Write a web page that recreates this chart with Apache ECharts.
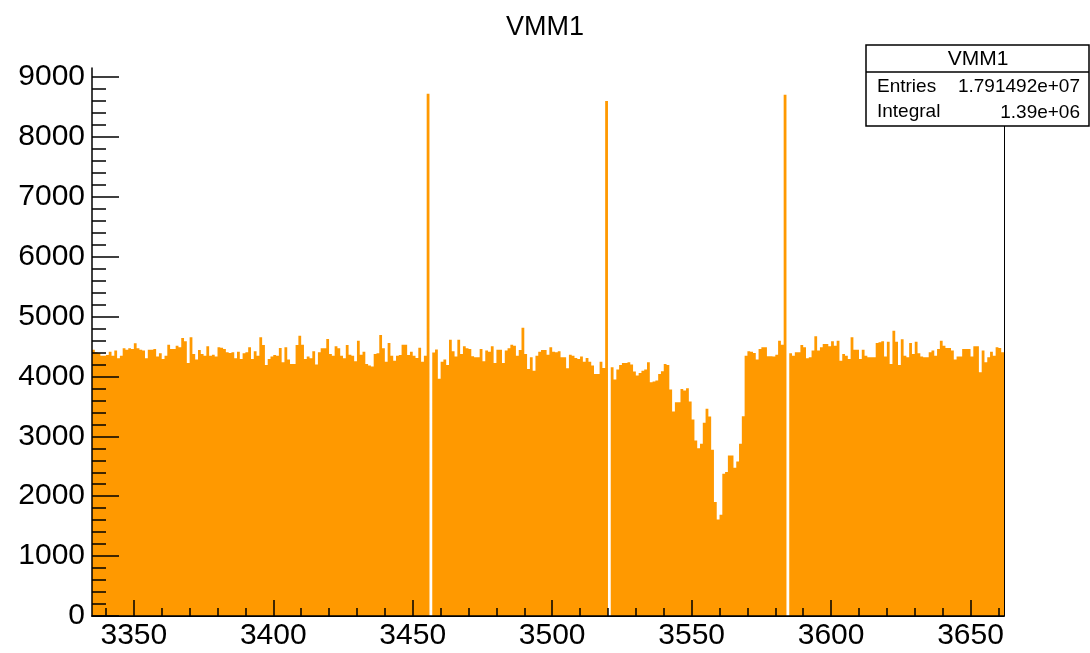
<!DOCTYPE html>
<html>
<head>
<meta charset="utf-8">
<title>VMM1</title>
<script src="https://cdn.jsdelivr.net/npm/echarts@6/dist/echarts.min.js"></script>
<style>
  html, body { margin: 0; padding: 0; background: #ffffff; }
  #chart { width: 1090px; height: 653px; }
</style>
</head>
<body>
<div id="chart"></div>
<script>
// Histogram of hits per strip for VMM1, one bin per strip.
const histTitle = 'VMM1';
const binStart = 3335;
const binWidth = 1;
const counts = [
  4447, 4403, 4392, 4347, 4347, 4359, 4414, 4347, 4431, 4303, 4347, 4470, 4447, 4470, 4459, 4553, 4470, 4447, 4431, 4303,
  4447, 4447, 4459, 4331, 4386, 4292, 4347, 4531, 4459, 4459, 4514, 4486, 4642, 4586, 4225, 4653, 4375, 4281, 4442, 4375,
  4347, 4503, 4347, 4364, 4331, 4486, 4481, 4459, 4403, 4392, 4403, 4303, 4414, 4292, 4386, 4403, 4486, 4292, 4420, 4347,
  4653, 4525, 4192, 4292, 4331, 4359, 4347, 4475, 4237, 4486, 4281, 4209, 4209, 4525, 4681, 4531, 4292, 4331, 4303, 4420,
  4198, 4403, 4470, 4470, 4625, 4375, 4347, 4503, 4470, 4347, 4303, 4525, 4364, 4347, 4253, 4597, 4364, 4414, 4209, 4181,
  4164, 4375, 4386, 4692, 4470, 4247, 4559, 4347, 4264, 4347, 4359, 4531, 4531, 4359, 4414, 4347, 4309, 4481, 4247, 4347,
  8722, 0, 4400, 4450, 3960, 4247, 4281, 4192, 4614, 4420, 4331, 4614, 4375, 4503, 4470, 4459, 4336, 4320, 4320, 4459,
  4253, 4431, 4414, 4503, 4225, 4447, 4447, 4225, 4431, 4470, 4531, 4514, 4347, 4442, 4814, 4375, 4125, 4320, 4097, 4347,
  4414, 4442, 4442, 4364, 4486, 4414, 4403, 4420, 4320, 4320, 4136, 4364, 4347, 4309, 4292, 4331, 4247, 4309, 4247, 4181,
  4042, 4042, 4247, 4142, 8600, 0, 4153, 3947, 4114, 4192, 4225, 4225, 4237, 4198, 4081, 4014, 4059, 4097, 4114, 4237,
  3903, 3914, 3931, 4042, 4086, 4209, 4192, 3781, 3414, 3570, 3570, 3792, 3764, 3803, 3581, 3281, 2931, 2803, 2875, 3225,
  3459, 3331, 2775, 1903, 1610, 1690, 2375, 2403, 2681, 2681, 2475, 2581, 2875, 3336, 4347, 4420, 4414, 4392, 4281, 4459,
  4486, 4486, 4336, 4336, 4331, 4364, 4597, 4531, 8705, 0, 4386, 4347, 4403, 4403, 4525, 4486, 4303, 4320, 4431, 4670,
  4431, 4486, 4542, 4542, 4503, 4586, 4514, 4597, 4264, 4375, 4347, 4292, 4653, 4447, 4447, 4292, 4447, 4347, 4320, 4320,
  4320, 4559, 4570, 4586, 4331, 4581, 4209, 4764, 4581, 4192, 4620, 4347, 4320, 4559, 4375, 4581, 4386, 4331, 4320, 4320,
  4403, 4431, 4347, 4459, 4597, 4514, 4475, 4475, 4431, 4281, 4331, 4331, 4459, 4459, 4459, 4331, 4503, 4503, 4070, 4431,
  4237, 4320, 4414, 4347, 4486, 4475, 4403
];
const xRange = [3335, 3662];
const yRange = [0, 9150];
const xMajorTicks = [3350, 3400, 3450, 3500, 3550, 3600, 3650];
const xMinorTicks = [3340, 3350, 3360, 3370, 3380, 3390, 3400, 3410, 3420, 3430, 3440, 3450, 3460, 3470, 3480, 3490,
  3500, 3510, 3520, 3530, 3540, 3550, 3560, 3570, 3580, 3590, 3600, 3610, 3620, 3630, 3640, 3650, 3660];
const yMajorTicks = [0, 1000, 2000, 3000, 4000, 5000, 6000, 7000, 8000, 9000];
const yMinorTicks = [];
for (let v = 0; v <= 9000; v += 200) yMinorTicks.push(v);
const entriesText = '1.791492e+07';

// ROOT-style exponent notation, e.g. 1.39e+06
function rootExp(v, digits) {
  const parts = v.toExponential(digits).split('e');
  const n = parseInt(parts[1], 10);
  return parts[0] + 'e' + (n < 0 ? '-' : '+') + String(Math.abs(n)).padStart(2, '0');
}
const integralText = rootExp(counts.reduce((a, b) => a + b, 0), 2);

const FONT = '"Liberation Sans", Arial, Helvetica, sans-serif';
const FILL = '#ff9900';

const chart = echarts.init(document.getElementById('chart'), null, { renderer: 'canvas' });

const gridBox = { left: 92, top: 68, width: 912, height: 548 };
const plainNumber = function (v) { return String(v); };

function baseX(extra) {
  return Object.assign({
    type: 'value', gridIndex: 0, min: xRange[0], max: xRange[1], position: 'bottom',
    splitLine: { show: false }, z: 10
  }, extra);
}
function baseY(extra) {
  return Object.assign({
    type: 'value', gridIndex: 0, min: yRange[0], max: yRange[1], position: 'left',
    splitLine: { show: false }, z: 10
  }, extra);
}

const option = {
  backgroundColor: '#ffffff',
  animation: false,
  title: {
    text: histTitle, left: 'center', top: 9,
    textStyle: { fontFamily: FONT, fontSize: 27, fontWeight: 'normal', color: '#000' }
  },
  grid: Object.assign({ show: false, containLabel: false }, gridBox),
  xAxis: [
    baseX({
      axisLine: { show: true, lineStyle: { color: '#000', width: 1.5 } },
      axisTick: { show: true, inside: true, length: 16, customValues: xMajorTicks, lineStyle: { color: '#000', width: 1.5 } },
      axisLabel: { show: true, customValues: xMajorTicks, formatter: plainNumber, margin: 5, fontFamily: FONT, fontSize: 30, color: '#000' }
    }),
    baseX({
      axisLine: { show: false },
      axisTick: { show: true, inside: true, length: 8, customValues: xMinorTicks, lineStyle: { color: '#000', width: 1.5 } },
      axisLabel: { show: false }
    }),
    baseX({
      position: 'top',
      axisLine: { show: true, lineStyle: { color: '#000', width: 1 } },
      axisTick: { show: false }, axisLabel: { show: false }
    })
  ],
  yAxis: [
    baseY({
      axisLine: { show: true, lineStyle: { color: '#000', width: 1.5 } },
      axisTick: { show: true, inside: true, length: 27, customValues: yMajorTicks, lineStyle: { color: '#000', width: 1.5 } },
      axisLabel: { show: true, customValues: yMajorTicks, formatter: plainNumber, margin: 7, fontFamily: FONT, fontSize: 30, color: '#000' }
    }),
    baseY({
      axisLine: { show: false },
      axisTick: { show: true, inside: true, length: 14, customValues: yMinorTicks, lineStyle: { color: '#000', width: 1.5 } },
      axisLabel: { show: false }
    }),
    baseY({
      position: 'right',
      axisLine: { show: true, lineStyle: { color: '#000', width: 1 } },
      axisTick: { show: false }, axisLabel: { show: false }
    })
  ],
  series: [{
    type: 'custom',
    name: histTitle,
    xAxisIndex: 0,
    yAxisIndex: 0,
    clip: true,
    z: 2,
    data: [[binStart, 0]],
    renderItem: function (params, api) {
      // Outline of the whole histogram as one filled step polygon.
      const pts = [api.coord([binStart, 0])];
      for (let i = 0; i < counts.length; i++) {
        const lo = binStart + i * binWidth;
        const hi = lo + binWidth;
        pts.push(api.coord([lo, counts[i]]));
        pts.push(api.coord([hi, counts[i]]));
      }
      pts.push(api.coord([binStart + counts.length * binWidth, 0]));
      return {
        type: 'polygon',
        shape: { points: pts },
        style: { fill: FILL, stroke: null }
      };
    }
  }],
  graphic: [
    { type: 'rect', z: 100, shape: { x: 866, y: 45, width: 223, height: 81 }, style: { fill: '#fff', stroke: '#000', lineWidth: 1.5 } },
    { type: 'line', z: 101, shape: { x1: 866, y1: 72, x2: 1089, y2: 72 }, style: { stroke: '#000', lineWidth: 1.5 } },
    { type: 'text', z: 101, x: 978, y: 59, style: { text: histTitle, font: '21px ' + FONT, fill: '#000', align: 'center', verticalAlign: 'middle' } },
    { type: 'text', z: 101, x: 877, y: 87, style: { text: 'Entries', font: '19px ' + FONT, fill: '#000', align: 'left', verticalAlign: 'middle' } },
    { type: 'text', z: 101, x: 1080, y: 87, style: { text: entriesText, font: '19px ' + FONT, fill: '#000', align: 'right', verticalAlign: 'middle' } },
    { type: 'text', z: 101, x: 877, y: 112, style: { text: 'Integral', font: '19px ' + FONT, fill: '#000', align: 'left', verticalAlign: 'middle' } },
    { type: 'text', z: 101, x: 1080, y: 113, style: { text: integralText, font: '19px ' + FONT, fill: '#000', align: 'right', verticalAlign: 'middle' } }
  ]
};

chart.setOption(option);
</script>
</body>
</html>
